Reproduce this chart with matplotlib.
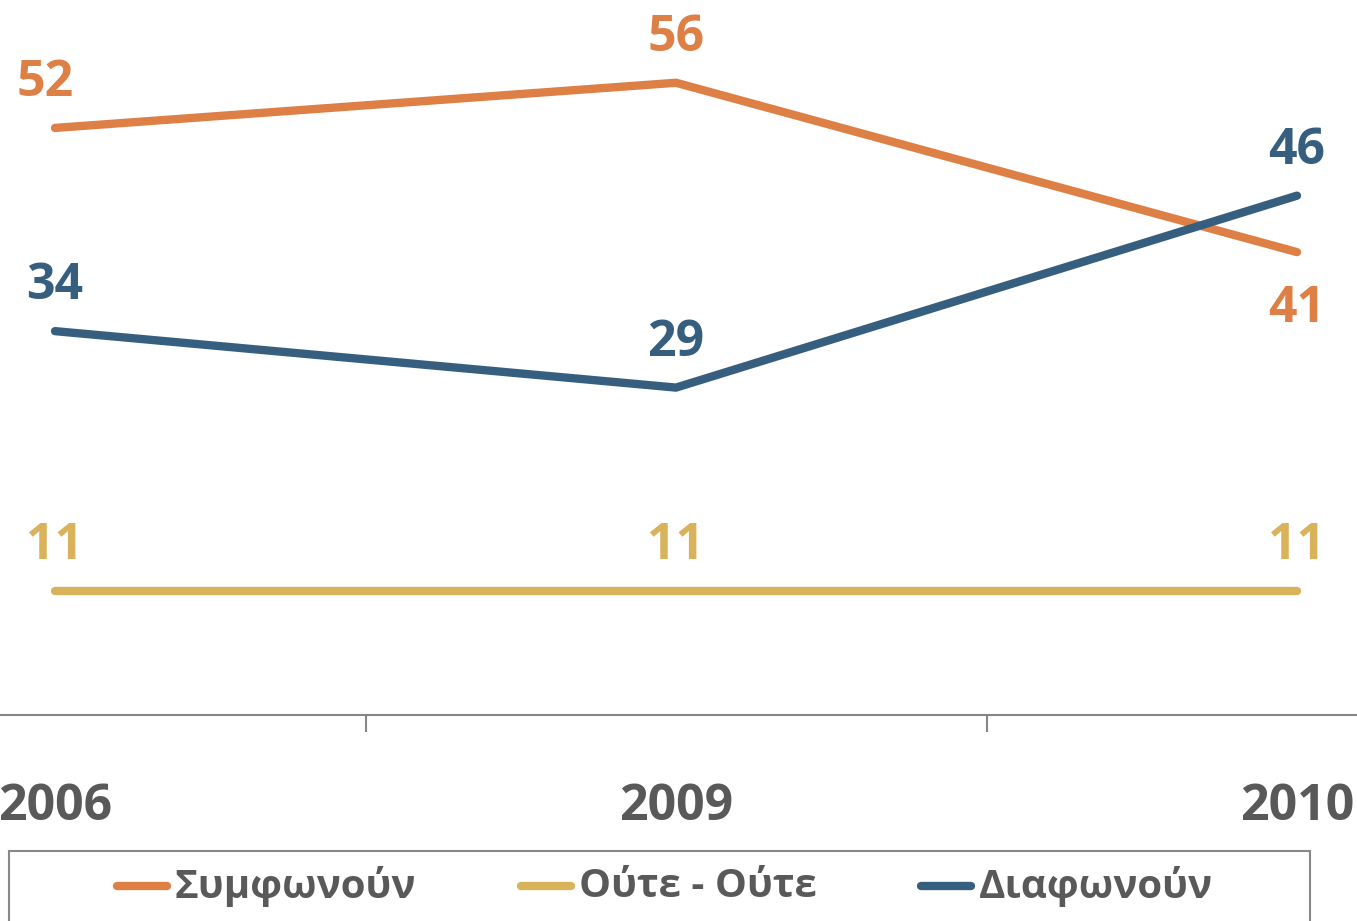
import matplotlib.pyplot as plt
from matplotlib.lines import Line2D
from matplotlib.patches import Rectangle

plt.rcParams['font.family'] = ['Open Sans', 'DejaVu Sans']

# δεδομένα
years = ['2006', '2009', '2010']
series_names = ['Συμφωνούν', 'Ούτε - Ούτε', 'Διαφωνούν']
agree = [52, 56, 41]
neither = [11, 11, 11]
disagree = [34, 29, 46]
colors = ['#DE7F45', '#D9B35B', '#365E7E']
label_side = [[1, 1, -1], [1, 1, 1], [1, 1, 1]]  # 1 = πάνω, -1 = κάτω

W, H = 1357, 921
fig = plt.figure(figsize=(W / 100, H / 100), dpi=100)
ax = fig.add_axes([0, (H - 715) / H, 1, 715 / H])

x = list(range(len(years)))
values = [agree, neither, disagree]
for vals, col, sides in zip(values, colors, label_side):
    ax.plot(x, vals, color=col, lw=6, solid_capstyle='round', solid_joinstyle='miter', clip_on=False)
    for xi, v, s in zip(x, vals, sides):
        dy = 23 if s > 0 else -50
        dx = -7 if (xi == 0 and v == 52) else 0
        ax.annotate(str(v), (xi, v), xytext=(dx, dy), textcoords='offset points',
                    ha='center', va='baseline', fontsize=36, fontweight='bold', color=col)

ax.set_xlim(-55 / 621, (W - 55) / 621)
ax.set_ylim(0, 715 / 11.29)

for s in ['top', 'left', 'right']:
    ax.spines[s].set_visible(False)
ax.spines['bottom'].set_color('#868686')
ax.spines['bottom'].set_linewidth(1.5)
ax.set_yticks([])
ax.set_xticks(x)
ax.set_xticklabels(years, fontsize=36, fontweight='bold', color='#595959')
ax.tick_params(axis='x', which='major', length=0, pad=48)
ax.set_xticks([0.5, 1.5], minor=True)
ax.tick_params(axis='x', which='minor', length=12, width=1.5, color='#868686', direction='out')

# υπόμνημα
fig.add_artist(Rectangle((9 / W, -0.05), (1310 - 9) / W, (H - 851) / H + 0.05,
                         transform=fig.transFigure, fill=False, edgecolor='#888888', lw=1.5))
starts = [113, 517, 917]
for x0, name, col in zip(starts, series_names, colors):
    yy = 1 - 886 / H
    fig.add_artist(Line2D([(x0 + 4) / W, (x0 + 54) / W], [yy, yy], transform=fig.transFigure,
                          color=col, lw=6, solid_capstyle='round'))
    fig.text((x0 + 62) / W, yy, name, fontsize=29, fontweight='bold', color='#595959',
             ha='left', va='center')

fig.savefig('out.png', dpi=100)
